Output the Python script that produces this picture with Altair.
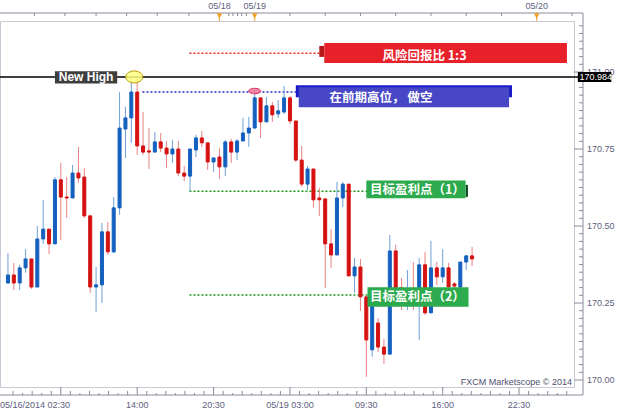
import altair as alt
import pandas as pd

# ---------------------------------------------------------------- data
# 30-minute bars, 05/16/2014 03:00 onwards (bar index 0 = first bar)
opens = [
    170.315, 170.341, 170.315, 170.364, 170.393, 170.302, 170.458, 170.490, 170.442, 170.650,
    170.594, 170.591, 170.672, 170.659, 170.533, 170.302, 170.309, 170.481, 170.416, 170.559,
    170.815, 170.851, 170.935, 170.760, 170.744, 170.740, 170.773, 170.753, 170.734, 170.750,
    170.672, 170.662, 170.747, 170.786, 170.770, 170.708, 170.724, 170.692, 170.773, 170.740,
    170.776, 170.802, 170.818, 170.916, 170.838, 170.890, 170.864, 170.870, 170.916, 170.841,
    170.714, 170.636, 170.685, 170.591, 170.588, 170.442, 170.406, 170.591, 170.636, 170.338,
    170.367, 170.270, 170.098, 170.185, 170.107, 170.084, 170.419, 170.299, 170.289, 170.296,
    170.260, 170.374, 170.218, 170.364, 170.335, 170.364, 170.312, 170.302, 170.383, 170.403,
]
highs = [
    170.412, 170.380, 170.374, 170.425, 170.393, 170.500, 170.585, 170.490, 170.659, 170.705,
    170.659, 170.698, 170.757, 170.688, 170.533, 170.367, 170.510, 170.513, 170.594, 170.935,
    170.887, 170.984, 170.984, 170.870, 170.818, 170.805, 170.802, 170.776, 170.779, 170.776,
    170.695, 170.750, 170.796, 170.809, 170.770, 170.721, 170.753, 170.779, 170.783, 170.783,
    170.851, 170.854, 170.945, 170.916, 170.919, 170.903, 170.909, 170.955, 170.922, 170.841,
    170.760, 170.695, 170.685, 170.624, 170.588, 170.490, 170.643, 170.643, 170.636, 170.396,
    170.393, 170.270, 170.270, 170.201, 170.133, 170.471, 170.439, 170.331, 170.357, 170.383,
    170.396, 170.416, 170.452, 170.383, 170.425, 170.380, 170.318, 170.383, 170.406, 170.432,
]
lows = [
    170.312, 170.292, 170.292, 170.348, 170.296, 170.302, 170.442, 170.409, 170.442, 170.455,
    170.526, 170.591, 170.640, 170.526, 170.283, 170.221, 170.250, 170.406, 170.412, 170.536,
    170.721, 170.770, 170.731, 170.731, 170.685, 170.740, 170.740, 170.688, 170.705, 170.662,
    170.646, 170.613, 170.724, 170.757, 170.682, 170.675, 170.653, 170.662, 170.705, 170.714,
    170.776, 170.757, 170.818, 170.786, 170.838, 170.838, 170.851, 170.864, 170.831, 170.708,
    170.627, 170.617, 170.559, 170.533, 170.299, 170.364, 170.406, 170.562, 170.338, 170.283,
    170.224, 170.010, 170.075, 170.091, 170.052, 170.084, 170.276, 170.227, 170.227, 170.227,
    170.130, 170.211, 170.218, 170.309, 170.315, 170.299, 170.292, 170.270, 170.357, 170.370,
]
closes = [
    170.341, 170.315, 170.364, 170.393, 170.302, 170.458, 170.490, 170.442, 170.650, 170.594,
    170.591, 170.672, 170.656, 170.533, 170.302, 170.309, 170.481, 170.416, 170.559, 170.818,
    170.851, 170.935, 170.760, 170.740, 170.740, 170.773, 170.753, 170.734, 170.750, 170.672,
    170.662, 170.750, 170.786, 170.770, 170.708, 170.721, 170.692, 170.773, 170.740, 170.776,
    170.802, 170.818, 170.916, 170.838, 170.890, 170.861, 170.874, 170.916, 170.841, 170.714,
    170.636, 170.685, 170.585, 170.585, 170.442, 170.406, 170.591, 170.636, 170.338, 170.367,
    170.270, 170.130, 170.260, 170.107, 170.084, 170.419, 170.292, 170.283, 170.296, 170.289,
    170.374, 170.218, 170.364, 170.335, 170.364, 170.302, 170.305, 170.383, 170.403, 170.393,
]

# key price levels of the trade idea
HIGH_LEVEL = 170.984
STOP_LEVEL = 171.061
ENTRY_LEVEL = 170.935
TARGET1 = 170.613
TARGET2 = 170.276

# price axis
price_major = [170.00, 170.25, 170.50, 170.75, 171.00]
# time axis (bar positions and labels)
time_major = [9, 22, 35, 48, 61, 74, 87]
time_labels = ["", "14:00", "20:30", "05/19 03:00", "09:30", "16:00", "22:30"]
first_label = "05/16/2014 02:30"
# day markers on the top strip
day_pos = [36, 42, 90]
day_labels = ["05/18", "05/19", "05/20"]
top_ticks = [4.5, 9.7, 15.0, 20.2, 25.4, 30.8, 37.6, 38.3, 39.1, 39.8, 40.6,
             48, 54, 60, 66, 72, 78, 84, 96]

# ---------------------------------------------------------------- layout
W, H = 574, 366
X_DOMAIN = [-0.5, 95.5]
Y_DOMAIN = [169.9773, 171.1656]
PX = (Y_DOMAIN[1] - Y_DOMAIN[0]) / H      # price per pixel

XS = alt.Scale(domain=X_DOMAIN, nice=False, zero=False)
YS = alt.Scale(domain=Y_DOMAIN, nice=False, zero=False)

UP_BODY, UP_WICK = "#1460BE", "#6E9FD8"
DN_BODY, DN_WICK = "#D51111", "#E98080"
AX = "#8A8A9A"
AX_TXT = "#5E5E80"
AX_FONT = "Liberation Sans"
CJK = "Noto Sans CJK SC"


def xq(f):
    return alt.X(f, type="quantitative", scale=XS, axis=None)


def yq(f):
    return alt.Y(f, type="quantitative", scale=YS, axis=None)


one = pd.DataFrame({"k": [0]})

bars = pd.DataFrame({"idx": range(len(opens)), "open": opens, "high": highs,
                     "low": lows, "close": closes})
bars["body_dir"] = ["up" if c >= o else "down" for o, c in zip(opens, closes)]
bars["wick_dir"] = bars["body_dir"]

wick_scale = alt.Scale(domain=["up", "down"], range=[UP_WICK, DN_WICK])
body_scale = alt.Scale(domain=["up", "down"], range=[UP_BODY, DN_BODY])

wicks = alt.Chart(bars).mark_rule(strokeWidth=1).encode(
    x=xq("idx"), y=yq("low"), y2="high",
    stroke=alt.Stroke("wick_dir:N", scale=wick_scale, legend=None))

bodies = alt.Chart(bars).mark_bar(size=3, strokeWidth=1).encode(
    x=xq("idx"), y=yq("open"), y2="close",
    fill=alt.Fill("body_dir:N", scale=body_scale, legend=None),
    stroke=alt.Stroke("body_dir:N", scale=body_scale, legend=None))

# ---------------------------------------------------------------- axes
frame_lines = [
    alt.Chart(one).mark_rule(color=AX).encode(x=alt.value(0), x2=alt.value(583), y=alt.value(-8)),
    alt.Chart(one).mark_rule(color=AX).encode(x=alt.value(0), x2=alt.value(583), y=alt.value(374)),
    alt.Chart(one).mark_rule(color=AX).encode(x=alt.value(583), y=alt.value(-8), y2=alt.value(374)),
]

minor_prices = [round(170 + 0.025 * k, 3) for k in range(0, 47) if k % 10 != 0]
p_major = pd.DataFrame({"p": price_major, "lab": [f"{v:.2f}" for v in price_major]})
p_minor = pd.DataFrame({"p": minor_prices})

price_ticks_major = alt.Chart(p_major).mark_rule(color=AX).encode(
    x=alt.value(574), x2=alt.value(583), y=yq("p"))
price_ticks_minor = alt.Chart(p_minor).mark_rule(color=AX).encode(
    x=alt.value(579), x2=alt.value(583), y=yq("p"))
price_labels = alt.Chart(p_major).mark_text(
    align="left", baseline="middle", fontSize=9, font=AX_FONT, color=AX_TXT).encode(
    x=alt.value(587), y=yq("p"), text="lab:N")

t_major = pd.DataFrame({"t": time_major, "lab": time_labels})
minor_t = []
for m in [-4] + time_major:
    for k in range(1, 8):
        v = m + 13 * k / 8
        if X_DOMAIN[0] < v < X_DOMAIN[1]:
            minor_t.append({"t": v, "len": 3 if k % 2 else 2})
t_minor = pd.DataFrame(minor_t)

time_ticks_major = alt.Chart(t_major).mark_rule(color=AX).encode(
    x=xq("t"), y=alt.value(366), y2=alt.value(374))
time_ticks_minor_a = alt.Chart(t_minor[t_minor["len"] == 3]).mark_rule(color=AX).encode(
    x=xq("t"), y=alt.value(370), y2=alt.value(374))
time_ticks_minor_b = alt.Chart(t_minor[t_minor["len"] == 2]).mark_rule(color=AX).encode(
    x=xq("t"), y=alt.value(372), y2=alt.value(374))
time_labels_l = alt.Chart(t_major).mark_text(
    align="center", baseline="middle", fontSize=9, font=AX_FONT, color=AX_TXT).encode(
    x=xq("t"), y=alt.value(384), text="lab:N")
first_lab = alt.Chart(one).mark_text(
    align="left", baseline="middle", fontSize=9, font=AX_FONT, color=AX_TXT).encode(
    x=alt.value(0), y=alt.value(384), text=alt.value(first_label))

top_df = pd.DataFrame({"t": top_ticks})
top_tick_marks = alt.Chart(top_df).mark_rule(color=AX).encode(
    x=xq("t"), y=alt.value(-8), y2=alt.value(-5))
day_df = pd.DataFrame({"t": day_pos, "lab": day_labels})
day_stems = alt.Chart(day_df).mark_rule(color="#F0A028").encode(
    x=xq("t"), y=alt.value(-8), y2=alt.value(0))
day_marks = alt.Chart(day_df).mark_point(
    shape="M-1,-1L1,-1L0,1Z", size=30, filled=True, opacity=1, color="#F0A028").encode(
    x=xq("t"), y=alt.value(-5))
day_text = alt.Chart(day_df).mark_text(
    align="center", baseline="middle", fontSize=9, font=AX_FONT, color=AX_TXT).encode(
    x=xq("t"), y=alt.value(-15), text="lab:N")

credit = alt.Chart(one).mark_text(
    align="right", baseline="alphabetic", fontSize=9, font=AX_FONT, color="#505072").encode(
    x=alt.value(572), y=alt.value(364), text=alt.value("FXCM Marketscope © 2014"))

# ---------------------------------------------------------------- annotations
high_line = alt.Chart(pd.DataFrame({"level": [HIGH_LEVEL]})).mark_rule(
    color="#000000", strokeWidth=1.5).encode(
    x=alt.value(0), x2=alt.value(583), y=yq("level"))

dots = pd.DataFrame({
    "level": [STOP_LEVEL, ENTRY_LEVEL, TARGET1, TARGET2],
    "x0": [30.9, 22.9, 30.9, 30.9],
    "x1": [53.3, 49.2, 61.4, 61.4],
    "col": ["#E02828", "#2828C0", "#1E9A1E", "#1E9A1E"],
})
dotted = alt.Chart(dots).mark_rule(strokeDash=[2, 2], strokeWidth=1.5).encode(
    x=xq("x0"), x2="x1", y=yq("level"), stroke=alt.Stroke("col:N", scale=None))

boxes = pd.DataFrame([
    dict(level=STOP_LEVEL, x0=53.0, x1=53.85, up=7.3, dn=3.7, col="#B81616"),
    dict(level=STOP_LEVEL, x0=53.85, x1=95.15, up=10.3, dn=9.7, col="#E8202A"),
    dict(level=ENTRY_LEVEL, x0=49.0, x1=85.8, up=6.7, dn=5.3, col="#1A1AC8"),
    dict(level=ENTRY_LEVEL, x0=49.5, x1=85.3, up=4.7, dn=15.3, col="#4848C6"),
    dict(level=TARGET1, x0=77.9, x1=78.3, up=6.3, dn=5.7, col="#0E4A20"),
    dict(level=TARGET1, x0=61.0, x1=77.9, up=10.6, dn=7.0, col="#2EAA4E"),
    dict(level=TARGET2, x0=61.2, x1=78.4, up=7.7, dn=11.7, col="#2EAA4E"),
    dict(level=HIGH_LEVEL, x0=8.0, x1=18.6, up=5.7, dn=6.6, col="#3E3E3E"),
    dict(level=HIGH_LEVEL, x0=97.0, x1=102.7, up=5.0, dn=5.0, col="#000000"),
])
boxes["y0"] = boxes["level"] + boxes["up"] * PX
boxes["y1"] = boxes["level"] - boxes["dn"] * PX
box_layer = alt.Chart(boxes).mark_rect().encode(
    x=xq("x0"), x2="x1", y=yq("y0"), y2="y1", fill=alt.Fill("col:N", scale=None))

cjk_txt = pd.DataFrame([
    dict(text="风险回报比  1:3", x=70.9, level=STOP_LEVEL, dy=3.0),
    dict(text="在前期高位， 做空", x=63.5, level=ENTRY_LEVEL, dy=6.3),
    dict(text="目标盈利点（1）", x=69.7, level=TARGET1, dy=-1.0),
    dict(text="目标盈利点（2）", x=69.7, level=TARGET2, dy=2.0),
])
cjk_txt["ty"] = cjk_txt["level"] - cjk_txt["dy"] * PX
cjk_layer = alt.Chart(cjk_txt).mark_text(
    align="center", baseline="middle", fontSize=12.5, font=CJK, fontWeight="bold",
    color="white").encode(x=xq("x"), y=yq("ty"), text="text:N")

nh = alt.Chart(pd.DataFrame({"x": [13.3], "level": [HIGH_LEVEL]})).mark_text(
    align="center", baseline="middle", fontSize=12, font=AX_FONT, fontWeight="bold",
    color="white").encode(x=xq("x"), y=yq("level"), text=alt.value("New High"))

tag = alt.Chart(pd.DataFrame({"x": [97.3], "level": [HIGH_LEVEL]})).mark_text(
    align="left", baseline="middle", fontSize=9, font=AX_FONT, color="white").encode(
    x=xq("x"), y=yq("level"), text=alt.value("170.984"))

yellow = alt.Chart(pd.DataFrame({"x": [21.5], "level": [HIGH_LEVEL]})).mark_point(
    shape="M-1,0A1,0.7,0,1,1,1,0A1,0.7,0,1,1,-1,0Z", size=289, filled=True,
    fill="#FFFF80", fillOpacity=0.85, stroke="#B89A00", strokeWidth=1, opacity=1).encode(
    x=xq("x"), y=yq("level"))

pink = alt.Chart(pd.DataFrame({"x": [42.0], "level": [ENTRY_LEVEL + 1.0 * PX]})).mark_point(
    shape="M-1,0A1,0.45,0,1,1,1,0A1,0.45,0,1,1,-1,0Z", size=144, filled=True,
    fill="#F47C9C", fillOpacity=0.9, stroke="#D03060", strokeWidth=1, opacity=1).encode(
    x=xq("x"), y=yq("level"))

chart = alt.layer(
    *frame_lines,
    price_ticks_minor, price_ticks_major, price_labels,
    time_ticks_minor_a, time_ticks_minor_b, time_ticks_major, time_labels_l, first_lab,
    top_tick_marks, day_stems, day_marks, day_text,
    credit,
    dotted,
    wicks, bodies,
    high_line,
    box_layer, cjk_layer, nh, tag,
    yellow, pink,
).resolve_scale(
    fill="independent", stroke="independent"
).properties(
    width=W, height=H,
    padding={"left": 0, "top": 21, "right": 49, "bottom": 26},
    autosize=alt.AutoSizeParams(type="none"),
    background="white",
).configure_view(stroke="#C9C9D6", strokeWidth=1)

chart.save("out.html", embed_options={"renderer": "svg", "actions": False})
